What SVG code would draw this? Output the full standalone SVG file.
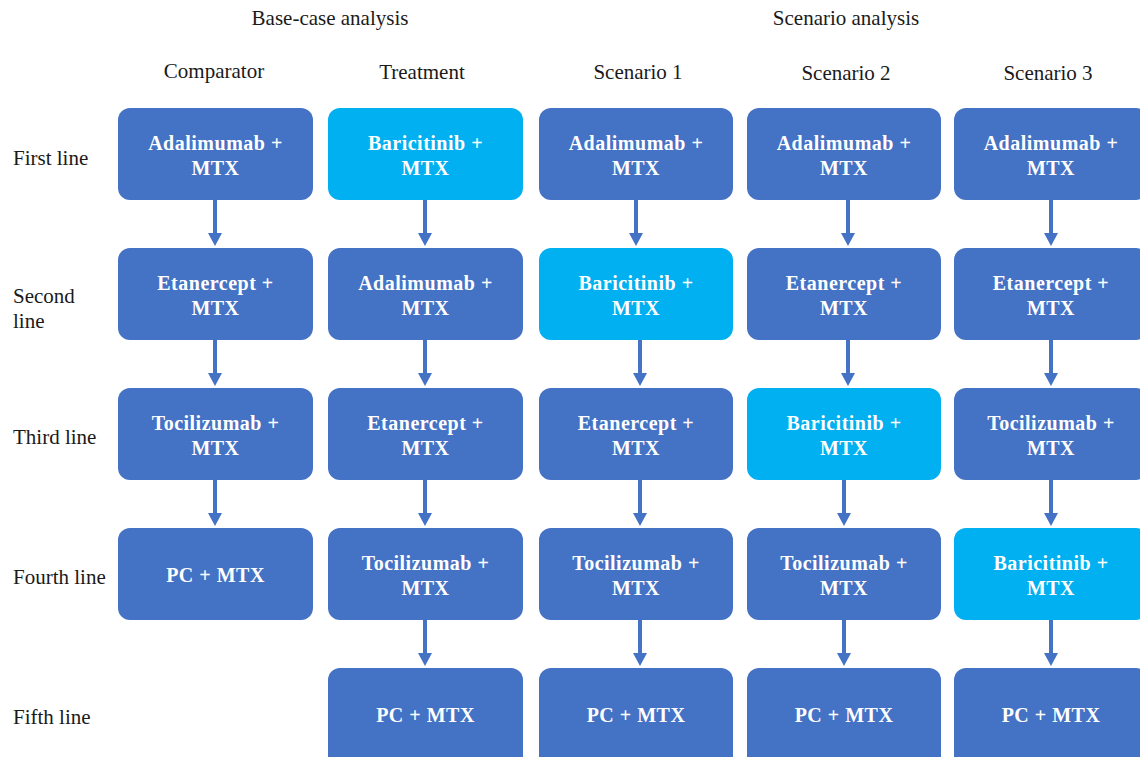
<svg xmlns="http://www.w3.org/2000/svg" width="1140" height="757" viewBox="0 0 1140 757">
<style>
.hd{font-family:"Liberation Serif","Times New Roman",serif;font-size:21px;fill:#1a1a1a;text-anchor:middle}
.rl{font-family:"Liberation Serif","Times New Roman",serif;font-size:21px;fill:#1a1a1a}
.n rect{fill:#4472C4}
.n.hl rect{fill:#00B0F0}
.n text{font-family:"Liberation Serif","Times New Roman",serif;font-size:20px;font-weight:bold;fill:#fff;text-anchor:middle;letter-spacing:0.5px}
.c line{stroke:#4472C4;stroke-width:4}
</style>
<defs>
<marker id="ah" viewBox="0 0 14 13" refX="7" refY="13" markerWidth="14" markerHeight="13" markerUnits="userSpaceOnUse" orient="auto-start-reverse">
<path d="M0,0 L14,0 L7,13 Z" fill="#4472C4" transform="rotate(0)"/>
</marker>
</defs>
<rect width="1140" height="757" fill="#fff"/>
<text class="hd" x="330" y="25">Base-case analysis</text>
<text class="hd" x="846" y="25">Scenario analysis</text>
<text class="hd" x="214" y="78">Comparator</text>
<text class="hd" x="422" y="79">Treatment</text>
<text class="hd" x="638" y="79">Scenario 1</text>
<text class="hd" x="846" y="80">Scenario 2</text>
<text class="hd" x="1048" y="80">Scenario 3</text>
<text class="rl" x="13" y="165">First line</text>
<text class="rl" x="13" y="303">Second</text>
<text class="rl" x="13" y="328">line</text>
<text class="rl" x="13" y="444">Third line</text>
<text class="rl" x="13" y="584">Fourth line</text>
<text class="rl" x="13" y="724">Fifth line</text>

<g id="connectors" class="c">
<line x1="215" y1="200" x2="215" y2="235"/><path d="M208,233 L222,233 L215,246 Z" fill="#4472C4"/>
<line x1="215" y1="340" x2="215" y2="375"/><path d="M208,373 L222,373 L215,386 Z" fill="#4472C4"/>
<line x1="215" y1="480" x2="215" y2="515"/><path d="M208,513 L222,513 L215,526 Z" fill="#4472C4"/>
<line x1="425" y1="200" x2="425" y2="235"/><path d="M418,233 L432,233 L425,246 Z" fill="#4472C4"/>
<line x1="425" y1="340" x2="425" y2="375"/><path d="M418,373 L432,373 L425,386 Z" fill="#4472C4"/>
<line x1="425" y1="480" x2="425" y2="515"/><path d="M418,513 L432,513 L425,526 Z" fill="#4472C4"/>
<line x1="425" y1="620" x2="425" y2="655"/><path d="M418,653 L432,653 L425,666 Z" fill="#4472C4"/>
<line x1="636" y1="200" x2="636" y2="235"/><path d="M629,233 L643,233 L636,246 Z" fill="#4472C4"/>
<line x1="640" y1="340" x2="640" y2="375"/><path d="M633,373 L647,373 L640,386 Z" fill="#4472C4"/>
<line x1="640" y1="480" x2="640" y2="515"/><path d="M633,513 L647,513 L640,526 Z" fill="#4472C4"/>
<line x1="640" y1="620" x2="640" y2="655"/><path d="M633,653 L647,653 L640,666 Z" fill="#4472C4"/>
<line x1="848" y1="200" x2="848" y2="235"/><path d="M841,233 L855,233 L848,246 Z" fill="#4472C4"/>
<line x1="848" y1="340" x2="848" y2="375"/><path d="M841,373 L855,373 L848,386 Z" fill="#4472C4"/>
<line x1="844" y1="480" x2="844" y2="515"/><path d="M837,513 L851,513 L844,526 Z" fill="#4472C4"/>
<line x1="844" y1="620" x2="844" y2="655"/><path d="M837,653 L851,653 L844,666 Z" fill="#4472C4"/>
<line x1="1051" y1="200" x2="1051" y2="235"/><path d="M1044,233 L1058,233 L1051,246 Z" fill="#4472C4"/>
<line x1="1051" y1="340" x2="1051" y2="375"/><path d="M1044,373 L1058,373 L1051,386 Z" fill="#4472C4"/>
<line x1="1051" y1="480" x2="1051" y2="515"/><path d="M1044,513 L1058,513 L1051,526 Z" fill="#4472C4"/>
<line x1="1051" y1="620" x2="1051" y2="655"/><path d="M1044,653 L1058,653 L1051,666 Z" fill="#4472C4"/>
</g>

<g id="c1r1" class="n"><rect x="118" y="108" width="195" height="92" rx="12"/><text x="215.5" y="150">Adalimumab +</text><text x="215.5" y="175">MTX</text></g>
<g id="c1r2" class="n"><rect x="118" y="248" width="195" height="92" rx="12"/><text x="215.5" y="290">Etanercept +</text><text x="215.5" y="315">MTX</text></g>
<g id="c1r3" class="n"><rect x="118" y="388" width="195" height="92" rx="12"/><text x="215.5" y="430">Tocilizumab +</text><text x="215.5" y="455">MTX</text></g>
<g id="c1r4" class="n"><rect x="118" y="528" width="195" height="92" rx="12"/><text x="215.5" y="582">PC + MTX</text></g>

<g id="c2r1" class="n hl"><rect x="328" y="108" width="195" height="92" rx="12"/><text x="425.5" y="150">Baricitinib +</text><text x="425.5" y="175">MTX</text></g>
<g id="c2r2" class="n"><rect x="328" y="248" width="195" height="92" rx="12"/><text x="425.5" y="290">Adalimumab +</text><text x="425.5" y="315">MTX</text></g>
<g id="c2r3" class="n"><rect x="328" y="388" width="195" height="92" rx="12"/><text x="425.5" y="430">Etanercept +</text><text x="425.5" y="455">MTX</text></g>
<g id="c2r4" class="n"><rect x="328" y="528" width="195" height="92" rx="12"/><text x="425.5" y="570">Tocilizumab +</text><text x="425.5" y="595">MTX</text></g>
<g id="c2r5" class="n"><rect x="328" y="668" width="195" height="100" rx="12"/><text x="425.5" y="722">PC + MTX</text></g>

<g id="c3r1" class="n"><rect x="539" y="108" width="194" height="92" rx="12"/><text x="636" y="150">Adalimumab +</text><text x="636" y="175">MTX</text></g>
<g id="c3r2" class="n hl"><rect x="539" y="248" width="194" height="92" rx="12"/><text x="636" y="290">Baricitinib +</text><text x="636" y="315">MTX</text></g>
<g id="c3r3" class="n"><rect x="539" y="388" width="194" height="92" rx="12"/><text x="636" y="430">Etanercept +</text><text x="636" y="455">MTX</text></g>
<g id="c3r4" class="n"><rect x="539" y="528" width="194" height="92" rx="12"/><text x="636" y="570">Tocilizumab +</text><text x="636" y="595">MTX</text></g>
<g id="c3r5" class="n"><rect x="539" y="668" width="194" height="100" rx="12"/><text x="636" y="722">PC + MTX</text></g>

<g id="c4r1" class="n"><rect x="747" y="108" width="194" height="92" rx="12"/><text x="844" y="150">Adalimumab +</text><text x="844" y="175">MTX</text></g>
<g id="c4r2" class="n"><rect x="747" y="248" width="194" height="92" rx="12"/><text x="844" y="290">Etanercept +</text><text x="844" y="315">MTX</text></g>
<g id="c4r3" class="n hl"><rect x="747" y="388" width="194" height="92" rx="12"/><text x="844" y="430">Baricitinib +</text><text x="844" y="455">MTX</text></g>
<g id="c4r4" class="n"><rect x="747" y="528" width="194" height="92" rx="12"/><text x="844" y="570">Tocilizumab +</text><text x="844" y="595">MTX</text></g>
<g id="c4r5" class="n"><rect x="747" y="668" width="194" height="100" rx="12"/><text x="844" y="722">PC + MTX</text></g>

<g id="c5r1" class="n"><rect x="954" y="108" width="194" height="92" rx="12"/><text x="1051" y="150">Adalimumab +</text><text x="1051" y="175">MTX</text></g>
<g id="c5r2" class="n"><rect x="954" y="248" width="194" height="92" rx="12"/><text x="1051" y="290">Etanercept +</text><text x="1051" y="315">MTX</text></g>
<g id="c5r3" class="n"><rect x="954" y="388" width="194" height="92" rx="12"/><text x="1051" y="430">Tocilizumab +</text><text x="1051" y="455">MTX</text></g>
<g id="c5r4" class="n hl"><rect x="954" y="528" width="194" height="92" rx="12"/><text x="1051" y="570">Baricitinib +</text><text x="1051" y="595">MTX</text></g>
<g id="c5r5" class="n"><rect x="954" y="668" width="194" height="100" rx="12"/><text x="1051" y="722">PC + MTX</text></g>
</svg>
